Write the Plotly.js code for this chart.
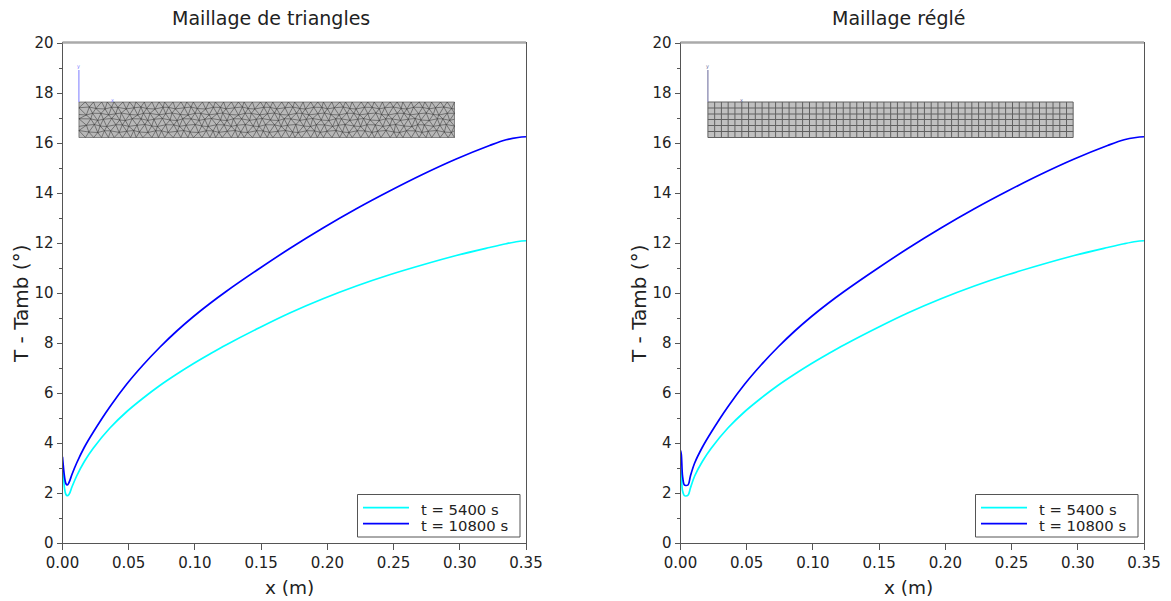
<!DOCTYPE html>
<html><head><meta charset="utf-8">
<script src="https://cdn.plot.ly/plotly-3.0.1.min.js"></script>
<style>html,body{margin:0;padding:0;background:#fff}#c{width:1171px;height:601px}</style>
</head><body><div id="c"></div>
<script>
const panelTitles = ["Maillage de triangles", "Maillage réglé"];
const seriesNames = ["t = 5400 s", "t = 10800 s"];
const xTitle = "x (m)";
const yTitle = "T - Tamb (°)";

const xTri = [0, 0.0006, 0.0015, 0.0025, 0.0036, 0.005, 0.0072, 0.0107, 0.0165, 0.0232, 0.0358, 0.0484, 0.061, 0.0735, 0.0861, 0.0987, 0.1113, 0.1238, 0.149, 0.1716, 0.1967, 0.2219, 0.247, 0.2722, 0.2973, 0.3225, 0.335, 0.344, 0.35];
const t5400Tri = [3.0, 2.81, 2.2, 1.95, 1.89, 1.95, 2.25, 2.68, 3.26, 3.79, 4.6, 5.25, 5.8, 6.3, 6.75, 7.17, 7.56, 7.93, 8.62, 9.2, 9.77, 10.28, 10.73, 11.13, 11.5, 11.82, 11.97, 12.06, 12.09];
const t10800Tri = [3.45, 3.1, 2.65, 2.38, 2.32, 2.43, 2.75, 3.2, 3.83, 4.43, 5.45, 6.35, 7.13, 7.83, 8.47, 9.05, 9.58, 10.07, 10.99, 11.78, 12.6, 13.37, 14.08, 14.75, 15.36, 15.9, 16.13, 16.22, 16.25];

const xReg = [0, 0.0006, 0.0015, 0.0028, 0.004, 0.0058, 0.0075, 0.0107, 0.0165, 0.0232, 0.0358, 0.0484, 0.061, 0.0735, 0.0861, 0.0987, 0.1113, 0.1238, 0.149, 0.1716, 0.1967, 0.2219, 0.247, 0.2722, 0.2973, 0.3225, 0.335, 0.344, 0.35];
const t5400Reg = [3.0, 2.75, 2.1, 1.9, 1.88, 1.92, 2.2, 2.68, 3.26, 3.79, 4.6, 5.25, 5.8, 6.3, 6.75, 7.17, 7.56, 7.93, 8.62, 9.2, 9.77, 10.28, 10.73, 11.13, 11.5, 11.82, 11.97, 12.06, 12.09];
const t10800Reg = [3.7, 3.55, 2.7, 2.33, 2.3, 2.33, 2.68, 3.2, 3.83, 4.43, 5.45, 6.35, 7.13, 7.83, 8.47, 9.05, 9.58, 10.07, 10.99, 11.78, 12.6, 13.37, 14.08, 14.75, 15.36, 15.9, 16.13, 16.22, 16.25];

const meshRows = [17.64, 17.4, 17.16, 16.94, 16.7, 16.46, 16.22];
const triColumns = [0.0124,0.0179,0.0233,0.0288,0.0342,0.0397,0.0451,0.0506,0.0560,0.0615,0.0669,0.0724,0.0778,0.0833,0.0887,0.0942,0.0996,0.1051,0.1105,0.1160,0.1214,0.1269,0.1323,0.1378,0.1432,0.1487,0.1541,0.1596,0.1650,0.1705,0.1759,0.1814,0.1868,0.1923,0.1977,0.2032,0.2086,0.2141,0.2195,0.2250,0.2304,0.2359,0.2413,0.2468,0.2522,0.2577,0.2631,0.2686,0.2740,0.2795,0.2849,0.2904,0.2960];
const gridColumns = [0.0207,0.0258,0.0309,0.0360,0.0411,0.0463,0.0514,0.0565,0.0616,0.0667,0.0718,0.0769,0.0820,0.0871,0.0922,0.0974,0.1025,0.1076,0.1127,0.1178,0.1229,0.1280,0.1331,0.1382,0.1433,0.1485,0.1536,0.1587,0.1638,0.1689,0.1740,0.1791,0.1842,0.1893,0.1944,0.1996,0.2047,0.2098,0.2149,0.2200,0.2251,0.2302,0.2353,0.2404,0.2455,0.2507,0.2558,0.2609,0.2660,0.2711,0.2762,0.2813,0.2864,0.2915,0.2965];
const nudgeX = [0.0005,-0.0007,0.0002,0.0008,-0.0004,-0.0008,0.0006,0.0001,-0.0006,0.0003,0.0007];
const nudgeY = [0.025,-0.035,0.01,0.04,-0.02,-0.04,0.03];

function triMesh() {
  const xs = [], ys = [];
  const n = triColumns.length, step = triColumns[1] - triColumns[0];
  const node = (r, c) => {
    const edgeC = c <= 0 || c >= n - 1, edgeR = r === 0 || r === meshRows.length - 1;
    const shifted = r % 2 ? step / 2 : 0;
    const col = Math.max(0, Math.min(n - 1, c));
    const px = edgeC ? triColumns[col] : Math.min(triColumns[n - 1], triColumns[col] + shifted + nudgeX[(r * 3 + c) % nudgeX.length]);
    const py = meshRows[r] + (edgeR ? 0 : nudgeY[(r * 2 + c) % nudgeY.length]);
    return [px, py];
  };
  const seg = (a, b) => { xs.push(a[0], b[0], null); ys.push(a[1], b[1], null); };
  for (let r = 0; r < meshRows.length; r++) {
    for (let c = 0; c < n; c++) {
      if (c < n - 1) seg(node(r, c), node(r, c + 1));
      if (r < meshRows.length - 1) {
        seg(node(r, c), node(r + 1, c));
        const other = r % 2 ? c + 1 : c - 1;
        if (other >= 0 && other < n) seg(node(r, c), node(r + 1, other));
      }
    }
  }
  return [xs, ys];
}
function gridMesh() {
  const xs = [], ys = [];
  const y0 = meshRows[0], y1 = meshRows[meshRows.length - 1];
  const x0 = gridColumns[0], x1 = gridColumns[gridColumns.length - 1];
  gridColumns.forEach(c => { xs.push(c, c, null); ys.push(y0, y1, null); });
  meshRows.forEach(r => { xs.push(x0, x1, null); ys.push(r, r, null); });
  return [xs, ys];
}
function rect(cols, axX, axY, color) {
  const a = cols[0], b = cols[cols.length - 1], t = meshRows[0], u = meshRows[meshRows.length - 1];
  return {x:[a,b,b,a,a], y:[t,t,u,u,t], xaxis:axX, yaxis:axY, mode:'lines', fill:'toself', fillcolor:color, line:{width:0}, showlegend:false, hoverinfo:'skip'};
}
const triad = (cols, axX, axY, color) => ({x:[cols[0],cols[0]], y:[meshRows[0], 18.92], xaxis:axX, yaxis:axY, mode:'lines', line:{color, width:1}, showlegend:false, hoverinfo:'skip'});
const tm = triMesh(), gm = gridMesh();
const cyan = '#00ffff', blue = '#0000ff';
const curve = (x, y, name, color, ax, ay) => ({x, y, xaxis:ax, yaxis:ay, mode:'lines', name, showlegend:false, line:{color, width:1.7, shape:'spline', smoothing:1}});
const traces = [
  rect(triColumns, 'x', 'y', '#b8b8b8'),
  {x:tm[0], y:tm[1], xaxis:'x', yaxis:'y', mode:'lines', line:{color:'#2a2a2a', width:0.5}, showlegend:false, hoverinfo:'skip', connectgaps:false},
  triad(triColumns, 'x', 'y', '#7a7aff'),
  curve(xTri, t5400Tri, seriesNames[0], cyan, 'x', 'y'),
  curve(xTri, t10800Tri, seriesNames[1], blue, 'x', 'y'),
  rect(gridColumns, 'x2', 'y2', '#c0c0c0'),
  {x:gm[0], y:gm[1], xaxis:'x2', yaxis:'y2', mode:'lines', line:{color:'#606060', width:1}, showlegend:false, hoverinfo:'skip', connectgaps:false},
  triad(gridColumns, 'x2', 'y2', '#666699'),
  curve(xReg, t5400Reg, seriesNames[0], cyan, 'x2', 'y2'),
  curve(xReg, t10800Reg, seriesNames[1], blue, 'x2', 'y2')
];
const W = 1171, H = 601;
const FONT = '"DejaVu Sans", sans-serif';
const INK = '#222';
const axCommon = {showgrid:false, zeroline:false, showline:true, mirror:true, linecolor:'#555', linewidth:1,
  ticks:'outside', tickcolor:'#555', tickwidth:1, tickfont:{family:FONT, size:15, color:INK}};
const xAxis = d => Object.assign({}, axCommon, {domain:d, range:[0,0.35], dtick:0.05, tick0:0, tickformat:'.2f', ticklen:6});
const yAxis = () => Object.assign({}, axCommon, {domain:[1-543/H, 1-43/H], range:[0,20], dtick:2, tick0:0, ticklen:5,
  minor:{dtick:1, ticks:'outside', ticklen:3, tickcolor:'#555', tickwidth:1}});
const topLine = (xr) => ({type:'line', xref:xr+' domain', yref:'paper', x0:0, x1:1, y0:1-42.5/H, y1:1-42.5/H, line:{color:'#aaaaaa', width:2.5}});
const label = (px, py, text, size, extra) => Object.assign({xref:'paper', yref:'paper', x:px/W, y:1-py/H, yanchor:'middle', xanchor:'center', showarrow:false, text, font:{family:FONT, size, color:INK}}, extra||{});
const tiny = (xr, yr, x, y, text, color) => ({xref:xr, yref:yr, x, y, text, showarrow:false, font:{family:FONT, size:5, color}});
const legendBox = dx => {
  const paperRect = {type:'rect', xref:'paper', yref:'paper', x0:(357.5+dx)/W, x1:(520+dx)/W, y0:1-494.5/H, y1:1-537/H, line:{color:'#555', width:1}, fillcolor:'#fff'};
  const sample = (py, color) => ({type:'line', xref:'paper', yref:'paper', x0:(363+dx)/W, x1:(409+dx)/W, y0:1-py/H, y1:1-py/H, line:{color, width:1.7}});
  return [paperRect, sample(507.7, cyan), sample(523.7, blue)];
};
const legendText = dx => [
  label(419.3+dx, 509, seriesNames[0], 14.8, {xanchor:'left'}),
  label(419.3+dx, 525, seriesNames[1], 14.8, {xanchor:'left'})
];
const layout = {
  width:W, height:H, margin:{l:0,r:0,t:0,b:0}, paper_bgcolor:'#fff', plot_bgcolor:'#fff', hovermode:false, showlegend:false,
  xaxis:Object.assign(xAxis([62.5/W, 526/W]), {anchor:'y'}),
  yaxis:Object.assign(yAxis(), {anchor:'x'}),
  xaxis2:Object.assign(xAxis([680.5/W, 1144/W]), {anchor:'y2'}),
  yaxis2:Object.assign(yAxis(), {anchor:'x2'}),
  shapes:[topLine('x'), topLine('x2'), ...legendBox(0), ...legendBox(618)],
  annotations:[
    label(271, 18, panelTitles[0], 19), label(898, 18, panelTitles[1], 19),
    label(289, 587, xTitle, 18.5), label(908, 587, xTitle, 18.5),
    label(21, 304, yTitle, 20, {textangle:-90}), label(639, 304, yTitle, 20, {textangle:-90}),
    ...legendText(0), ...legendText(618),
    tiny('x','y',triColumns[0],19.05,'y','#7a7aff'), tiny('x','y',triColumns[0]+0.025,17.72,'x','#7a7aff'),
    tiny('x2','y2',gridColumns[0],19.05,'y','#666699'), tiny('x2','y2',gridColumns[0]+0.025,17.72,'x','#666699')]
};
Plotly.newPlot('c', traces, layout, {staticPlot:true, displayModeBar:false});
</script></body></html>
